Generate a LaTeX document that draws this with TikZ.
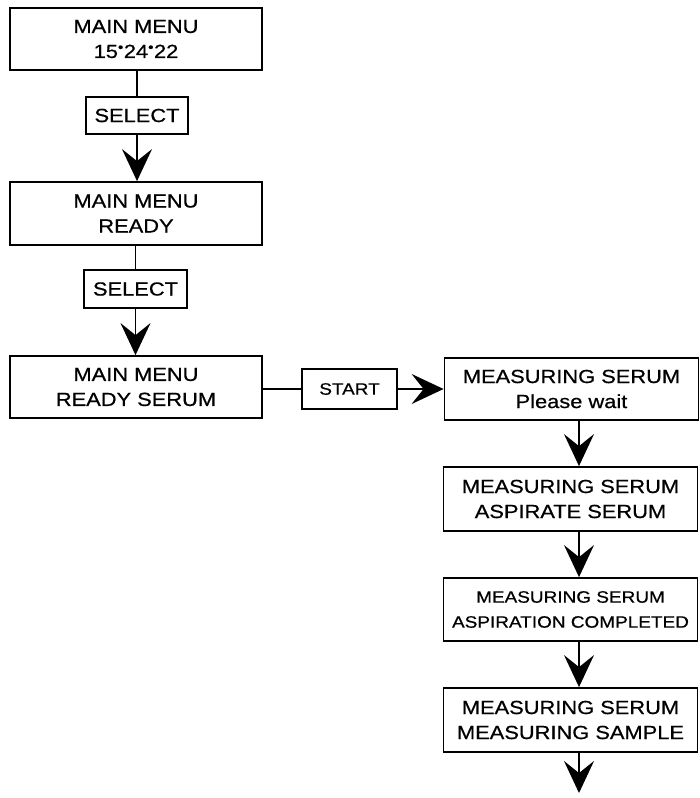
\documentclass[tikz,border=0pt]{standalone}
\usepackage{fontspec}
\setmainfont{Liberation Sans}[FakeStretch=1.15, FakeBold=0.6]
\usetikzlibrary{arrows.meta}
\tikzset{
  box/.style={draw, line width=1.8pt, minimum width=252pt, minimum height=62pt, inner sep=0pt, align=center, font=\fontsize{19}{25}\selectfont},
  mbox/.style={box, minimum width=254pt},
  key/.style={draw, line width=1.8pt, inner sep=0pt, align=center, font=\fontsize{19}{20}\selectfont},
  conn/.style={line width=1.6pt},
  arr/.style={line width=1.6pt, -{Stealth[length=32pt, width=30pt, inset=12pt]}}
}
\begin{document}
\begin{tikzpicture}[x=1pt, y=-1pt]
\useasboundingbox (0,0) rectangle (700,798);
\node[box] (b1) at (136,39) {MAIN MENU\\15\textsuperscript{•}24\textsuperscript{•}22};
\node[key, minimum width=102pt, minimum height=37pt] (s1) at (137,115.5) {SELECT};
\node[box, minimum height=63pt] (b2) at (136,213.5) {MAIN MENU\\READY};
\node[key, minimum width=103pt, minimum height=38pt] (s2) at (135.5,289) {SELECT};
\node[box] (b3) at (136,387) {MAIN MENU\\READY SERUM};
\node[key, minimum width=95pt, minimum height=40pt, font=\fontsize{16.5}{18}\selectfont] (st) at (349.5,389) {START};
\node[mbox] (m1) at (571.5,389) {MEASURING SERUM\\Please wait};
\node[mbox, minimum height=64pt] (m2) at (570.5,499) {MEASURING SERUM\\ASPIRATE SERUM};
\node[mbox, minimum height=63pt, font=\fontsize{16.5}{25}\selectfont] (m3) at (570.5,609.5) {MEASURING SERUM\\ASPIRATION COMPLETED};
\node[mbox, minimum height=64pt] (m4) at (570.5,720) {MEASURING SERUM\\MEASURING SAMPLE};
\coordinate (end) at (579,793);

\draw[conn] (b1.south -| s1.north) -- (s1.north);
\draw[arr] (s1.south) -- (s1.south |- b2.north);
\draw[conn] (b2.south -| s2.north) -- (s2.north);
\draw[arr] (s2.south) -- (s2.south |- b3.north);
\draw[conn] (b3.east |- st.west) -- (st.west);
\draw[arr] (st.east) -- (st.east -| m1.west);
\draw[arr] ([xshift=7.5pt]m1.south) -- ([xshift=8.5pt]m2.north);
\draw[arr] ([xshift=8.5pt]m2.south) -- ([xshift=8.5pt]m3.north);
\draw[arr] ([xshift=8.5pt]m3.south) -- ([xshift=8.5pt]m4.north);
\draw[arr] ([xshift=8.5pt]m4.south) -- (end);
\end{tikzpicture}
\end{document}
